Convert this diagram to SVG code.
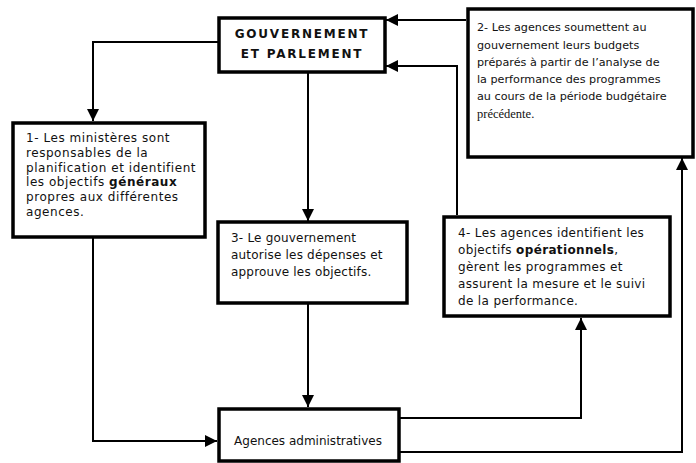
<svg xmlns="http://www.w3.org/2000/svg" width="696" height="463" viewBox="0 0 696 463">
<defs>
<marker id="ah" markerWidth="14" markerHeight="14" refX="12" refY="7" orient="auto" markerUnits="userSpaceOnUse">
<path d="M0,1 L12,7 L0,13 Z" fill="#000"/>
</marker>
<style>
.box{fill:#fff;stroke:#000;stroke-width:3.5}
.c{fill:none;stroke:#000;stroke-width:2;marker-end:url(#ah)}
.t{font-family:"DejaVu Sans",Verdana,sans-serif;font-size:12px;fill:#111}
.t1{letter-spacing:0.55px}
.t3{letter-spacing:0.2px}
.t4{letter-spacing:0.35px}
.t2{font-family:"DejaVu Sans",Verdana,sans-serif;font-size:11.2px;fill:#111}
.h{font-family:"DejaVu Sans",Verdana,sans-serif;font-size:12px;font-weight:bold;fill:#111;letter-spacing:1.8px}
.b{font-weight:bold}
.s{font-family:"Liberation Serif","Times New Roman",serif;font-size:12.5px;fill:#111}
</style>
</defs>
<rect width="696" height="463" fill="#fff"/>
<g id="connectors">
<path class="c" d="M218,42 H93 V121"/>
<path class="c" d="M308,73 V221"/>
<path class="c" d="M308,304 V407"/>
<path class="c" d="M93,238 V441 H217"/>
<path class="c" d="M400,418 H581 V318"/>
<path class="c" d="M400,452 H682 V158"/>
<path class="c" d="M457,215 V66 H386"/>
<path class="c" d="M466,20 H386"/>
</g>
<g id="gouvernement">
<rect class="box" x="219" y="18" width="166" height="54"/>
<text class="h" x="302" y="38" text-anchor="middle">GOUVERNEMENT</text>
<text class="h" x="302" y="58" text-anchor="middle">ET PARLEMENT</text>
</g>
<g id="agences-budgets">
<rect class="box" x="468" y="9" width="225" height="148"/>
<text class="t2" x="477" y="31">2- Les agences soumettent au</text>
<text class="t2" x="477" y="49">gouvernement leurs budgets</text>
<text class="t2" x="477" y="66">préparés à partir de l’analyse de</text>
<text class="t2" x="477" y="83">la performance des programmes</text>
<text class="t2" x="477" y="100">au cours de la période budgétaire</text>
<text class="s" x="477" y="118">précédente.</text>
</g>
<g id="ministeres">
<rect class="box" x="13" y="123" width="192" height="114"/>
<text class="t t1" x="26" y="142">1- Les ministères sont</text>
<text class="t t1" x="26" y="157">responsables de la</text>
<text class="t t1" x="26" y="172">planification et identifient</text>
<text class="t t1" x="26" y="186">les objectifs <tspan class="b">généraux</tspan></text>
<text class="t t1" x="26" y="201">propres aux différentes</text>
<text class="t t1" x="26" y="216">agences.</text>
</g>
<g id="gouvernement-autorise">
<rect class="box" x="218" y="222" width="189" height="81"/>
<text class="t t3" x="231" y="242">3- Le gouvernement</text>
<text class="t t3" x="231" y="259">autorise les dépenses et</text>
<text class="t t3" x="231" y="276">approuve les objectifs.</text>
</g>
<g id="agences-operationnels">
<rect class="box" x="444" y="217" width="226" height="99"/>
<text class="t t4" x="458" y="237">4- Les agences identifient les</text>
<text class="t t4" x="458" y="254">objectifs <tspan class="b">opérationnels</tspan>,</text>
<text class="t t4" x="458" y="271">gèrent les programmes et</text>
<text class="t t4" x="458" y="288">assurent la mesure et le suivi</text>
<text class="t t4" x="458" y="305">de la performance.</text>
</g>
<g id="agences-administratives">
<rect class="box" x="219" y="409" width="180" height="52"/>
<text class="t" x="308" y="445" text-anchor="middle">Agences administratives</text>
</g>
</svg>
